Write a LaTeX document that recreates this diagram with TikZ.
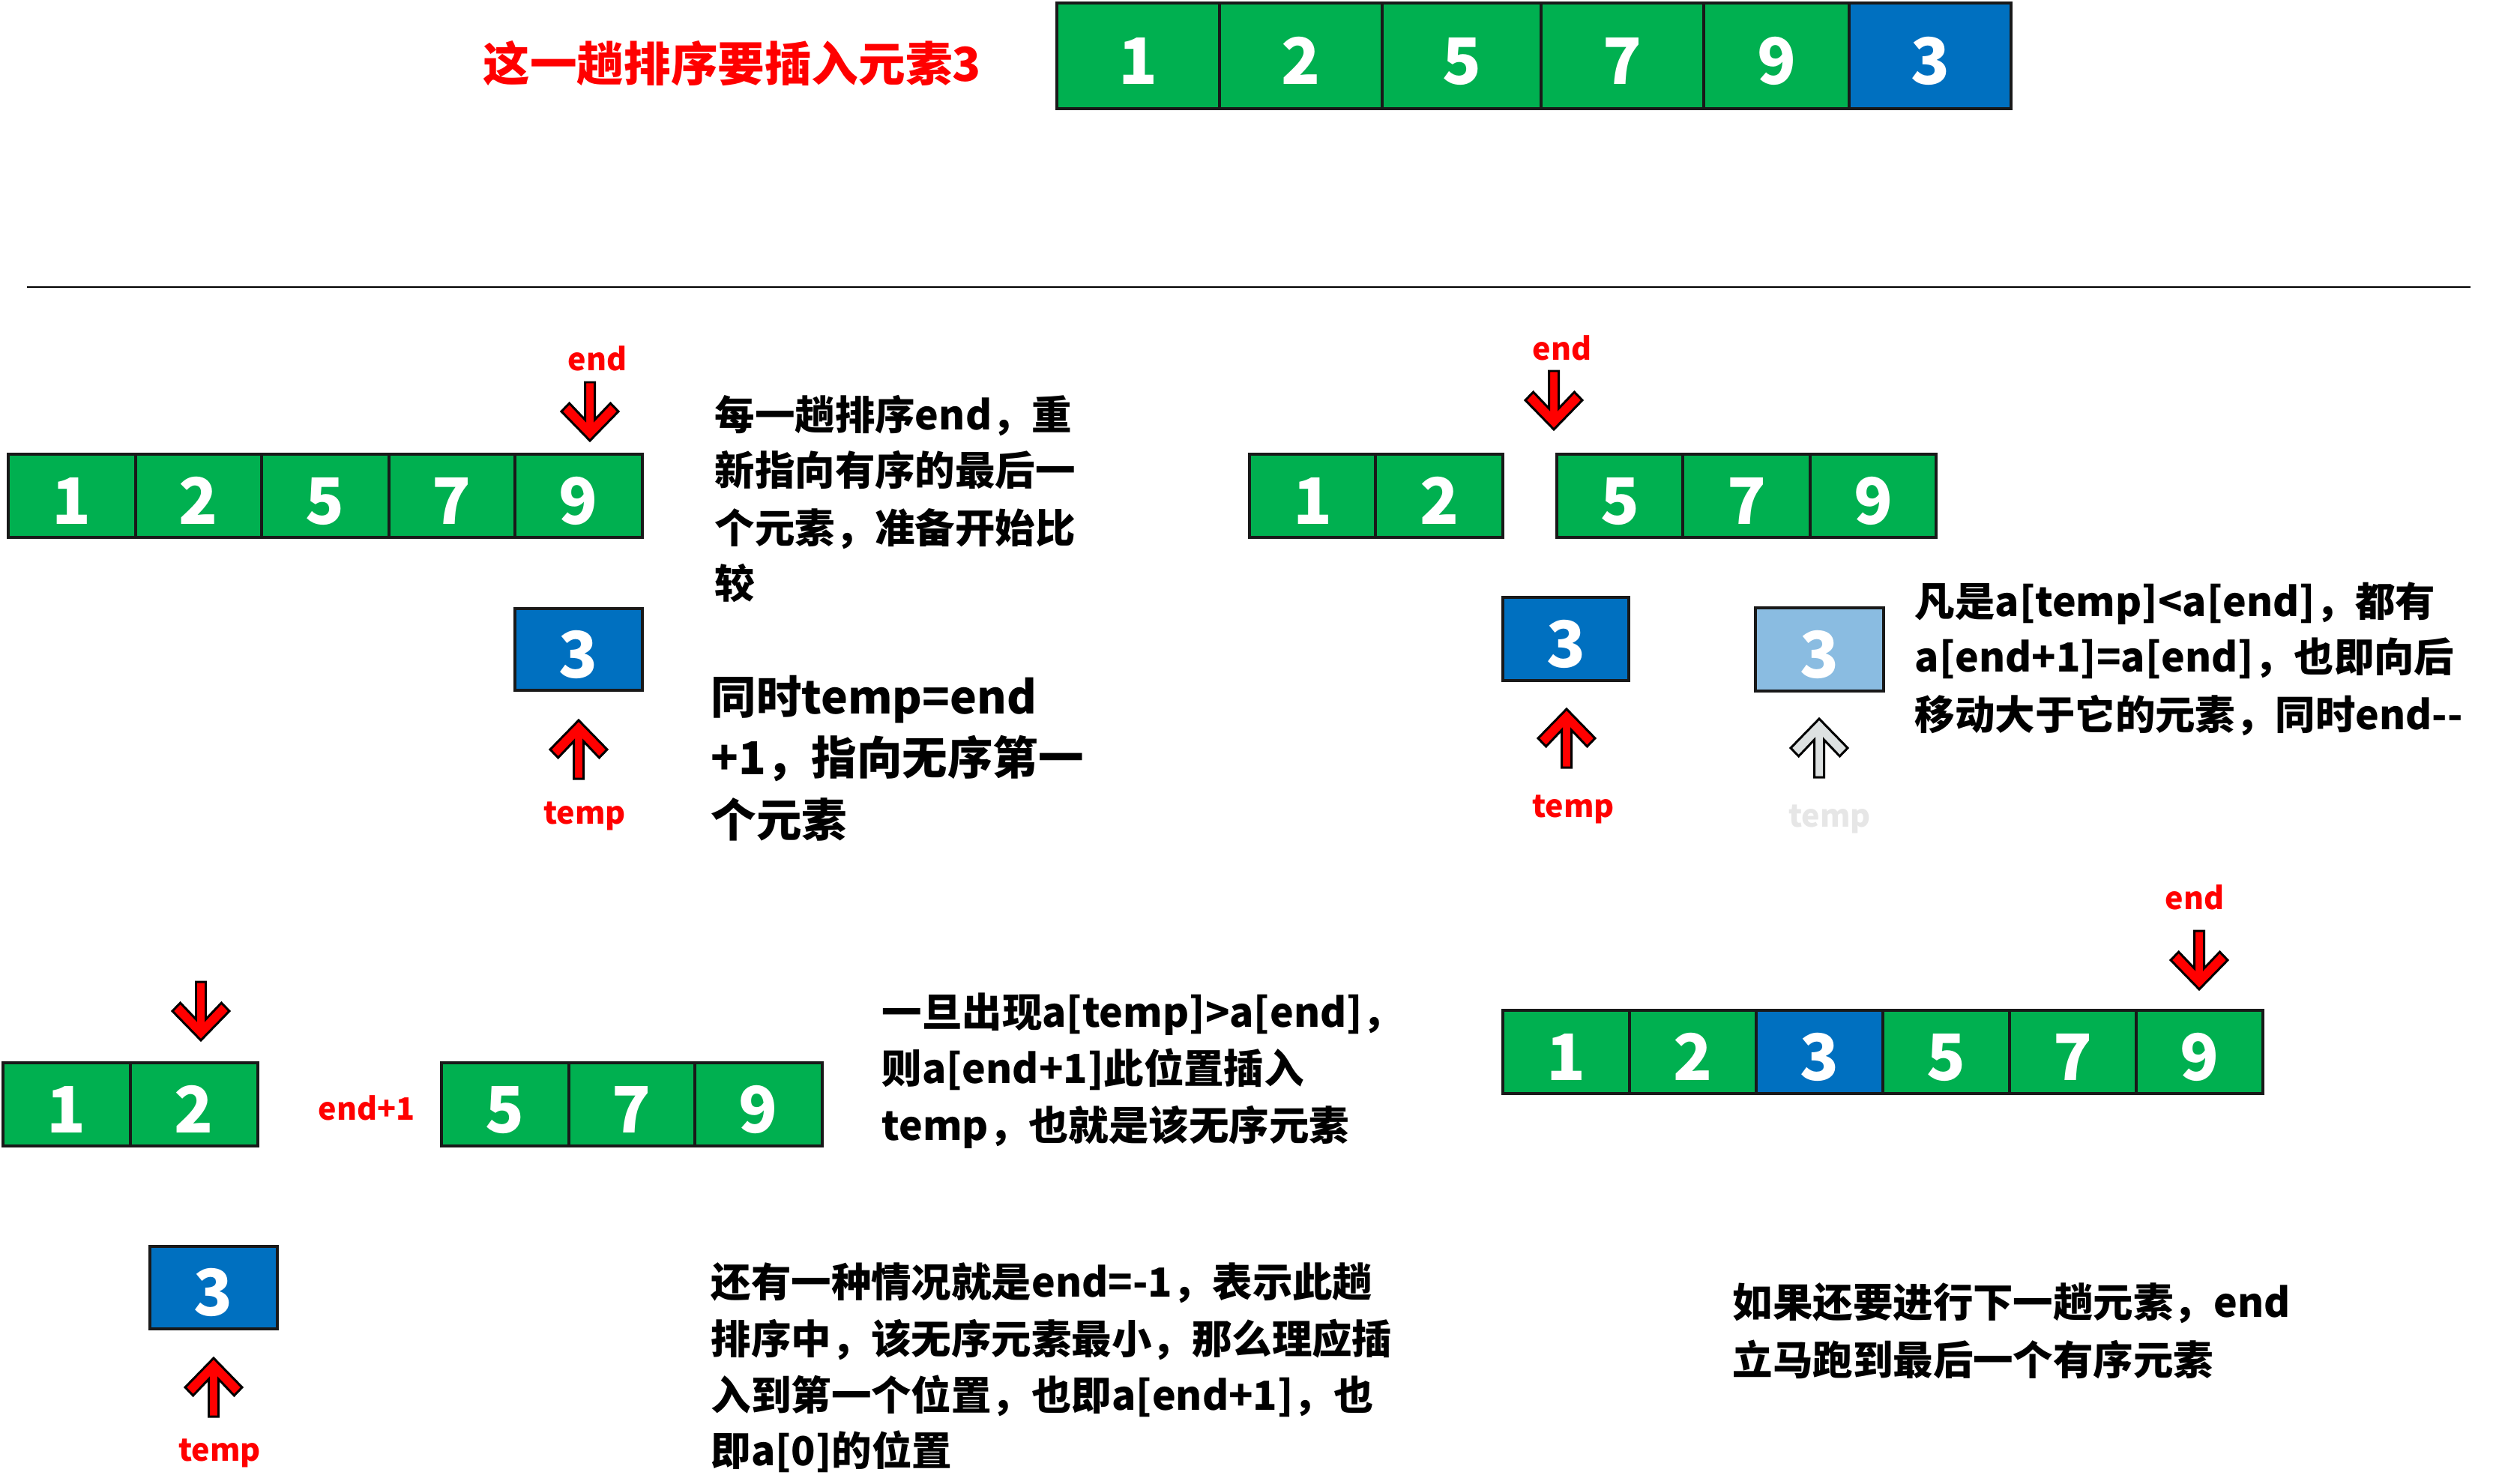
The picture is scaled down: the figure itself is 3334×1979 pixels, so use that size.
\documentclass[tikz,border=0pt]{standalone}
\usepackage{fontspec}
\setmainfont{Noto Sans CJK SC}
\definecolor{cgreen}{RGB}{0,176,80}
\definecolor{cblue}{RGB}{0,112,192}
\definecolor{clight}{RGB}{138,188,225}
\definecolor{cred}{RGB}{255,0,0}
\definecolor{cgreyfill}{RGB}{221,225,225}
\definecolor{cgreytext}{RGB}{230,230,230}
\tikzset{
  cellbox/.style={draw=black!90, line width=1.1pt, inner sep=0pt, text=white,
    text height=21.5pt, text depth=0pt,
    font=\bfseries\fontsize{24.3}{28}\selectfont},
  txt/.style={anchor=base west, inner sep=0pt, text=black, font=\bfseries\fontsize{15.2}{18}\selectfont},
  txtbig/.style={txt, font=\bfseries\fontsize{17.2}{20}\selectfont},
  lbl/.style={inner sep=0pt, text=cred, font=\bfseries\fontsize{11.7}{14}\selectfont},
  ptrline/.style={draw=black, line width=0.85pt, line join=miter},
  pics/upptr/.style={code={
    \path[ptrline, fill=#1] (0,0) -- (38,39) -- (27.4,50) -- (6.5,28) -- (6.5,78)
      -- (-6.5,78) -- (-6.5,28) -- (-27.4,50) -- (-38,39) -- cycle;}},
  pics/upptr/.default=cred,
  pics/downptr/.style={code={
    \path[ptrline, fill=#1] (-6.5,0) -- (6.5,0) -- (6.5,50) -- (27.4,28) -- (38,39)
      -- (0,78) -- (-38,39) -- (-27.4,28) -- (-6.5,50) -- cycle;}},
  pics/downptr/.default=cred,
}
\newcommand\mkcell[7]{%
  \node[cellbox, fill=#6, minimum width={(#3-#2)*0.01cm}, minimum height={(#5-#4)*0.01cm}]
    (#1) at ({(#2+#3)/2},{(#4+#5)/2}) {#7};}
\begin{document}
\begin{tikzpicture}[x=0.01cm, y={(0,-0.01cm)}]
\fill[white] (0,0) rectangle (3334,1979);
\useasboundingbox (0,0) rectangle (3334,1979);

% ---------- top ----------
\node[txt, text=cred, font=\bfseries\fontsize{17.8}{20}\selectfont] (title) at (644,109) {这一趟排序要插入元素3};
\mkcell{t1}{1410}{1627}{4}{145}{cgreen}{1}
\mkcell{t2}{1627}{1844}{4}{145}{cgreen}{2}
\mkcell{t3}{1844}{2056}{4}{145}{cgreen}{5}
\mkcell{t4}{2056}{2273}{4}{145}{cgreen}{7}
\mkcell{t5}{2273}{2467}{4}{145}{cgreen}{9}
\mkcell{t6}{2467}{2683}{4}{145}{cblue}{3}

\coordinate (sepL) at (36,383);
\coordinate (sepR) at (3296,383);
\draw[line width=0.7pt] (sepL) -- (sepR);

% ---------- section 1 (top left) ----------
\node[lbl] (endA) at (797,478) {end};
\pic at (787,510) {downptr};
\mkcell{a1}{11}{181}{606}{717}{cgreen}{1}
\mkcell{a2}{181}{349}{606}{717}{cgreen}{2}
\mkcell{a3}{349}{519}{606}{717}{cgreen}{5}
\mkcell{a4}{519}{687}{606}{717}{cgreen}{7}
\mkcell{a5}{687}{857}{606}{717}{cgreen}{9}
\mkcell{aT}{687}{857}{812}{921}{cblue}{3}
\pic at (772,961) {upptr};
\node[lbl] (tempA) at (780,1089) {temp};

\node[txt] (pA1) at (953,573) {每一趟排序end，重};
\node[txt] (pA2) at (953,647) {新指向有序的最后一};
\node[txt] (pA3) at (953,724) {个元素，准备开始比};
\node[txt] (pA4) at (953,798) {较};
\node[txtbig] (pB1) at (948,952) {同时temp=end};
\node[txtbig] (pB2) at (948,1033) {+1，指向无序第一};
\node[txtbig] (pB3) at (948,1116) {个元素};

% ---------- section 2 (top right) ----------
\node[lbl] (endB) at (2084,464) {end};
\pic at (2073,495) {downptr};
\mkcell{b1}{1667}{1835}{606}{717}{cgreen}{1}
\mkcell{b2}{1835}{2005}{606}{717}{cgreen}{2}
\mkcell{b3}{2077}{2245}{606}{717}{cgreen}{5}
\mkcell{b4}{2245}{2415}{606}{717}{cgreen}{7}
\mkcell{b5}{2415}{2583}{606}{717}{cgreen}{9}
\mkcell{bT}{2005}{2173}{797}{908}{cblue}{3}
\mkcell{bL}{2342}{2513}{811}{922}{clight}{3}
\pic at (2090,946) {upptr};
\pic at (2427,959) {upptr=cgreyfill};
\node[lbl] (tempB) at (2099,1080) {temp};
\node[lbl, text=cgreytext] (tempG) at (2441,1093) {temp};

\node[txt] (pC1) at (2554,822) {凡是a[temp]<a[end]，都有};
\node[txt] (pC2) at (2554,896) {a[end+1]=a[end]，也即向后};
\node[txt] (pC3) at (2554,973) {移动大于它的元素，同时end-{}-};

% ---------- section 3 (bottom left) ----------
\pic at (268,1310) {downptr};
\mkcell{c1}{4}{174}{1418}{1529}{cgreen}{1}
\mkcell{c2}{174}{344}{1418}{1529}{cgreen}{2}
\node[lbl] (endplus) at (489,1478) {end+1};
\mkcell{c3}{589}{759}{1418}{1529}{cgreen}{5}
\mkcell{c4}{759}{927}{1418}{1529}{cgreen}{7}
\mkcell{c5}{927}{1097}{1418}{1529}{cgreen}{9}
\mkcell{cT}{200}{370}{1663}{1773}{cblue}{3}
\pic at (285,1812) {upptr};
\node[lbl] (tempC) at (293,1939) {temp};

\node[txt] (pD1) at (1176,1370) {一旦出现a[temp]>a[end]，};
\node[txt] (pD2) at (1176,1445) {则a[end+1]此位置插入};
\node[txt] (pD3) at (1176,1521) {temp，也就是该无序元素};

\node[txt] (pE1) at (948,1730) {还有一种情况就是end=-1，表示此趟};
\node[txt] (pE2) at (948,1806) {排序中，该无序元素最小，那么理应插};
\node[txt] (pE3) at (948,1881) {入到第一个位置，也即a[end+1]，也};
\node[txt] (pE4) at (948,1955) {即a[0]的位置};

% ---------- section 4 (bottom right) ----------
\node[lbl] (endD) at (2928,1197) {end};
\pic at (2934,1242) {downptr};
\mkcell{d1}{2005}{2174}{1348}{1459}{cgreen}{1}
\mkcell{d2}{2174}{2343}{1348}{1459}{cgreen}{2}
\mkcell{d3}{2343}{2512}{1348}{1459}{cblue}{3}
\mkcell{d4}{2512}{2681}{1348}{1459}{cgreen}{5}
\mkcell{d5}{2681}{2850}{1348}{1459}{cgreen}{7}
\mkcell{d6}{2850}{3019}{1348}{1459}{cgreen}{9}

\node[txt] (pF1) at (2311,1757) {如果还要进行下一趟元素，end};
\node[txt] (pF2) at (2311,1834) {立马跑到最后一个有序元素};
\end{tikzpicture}
\end{document}
